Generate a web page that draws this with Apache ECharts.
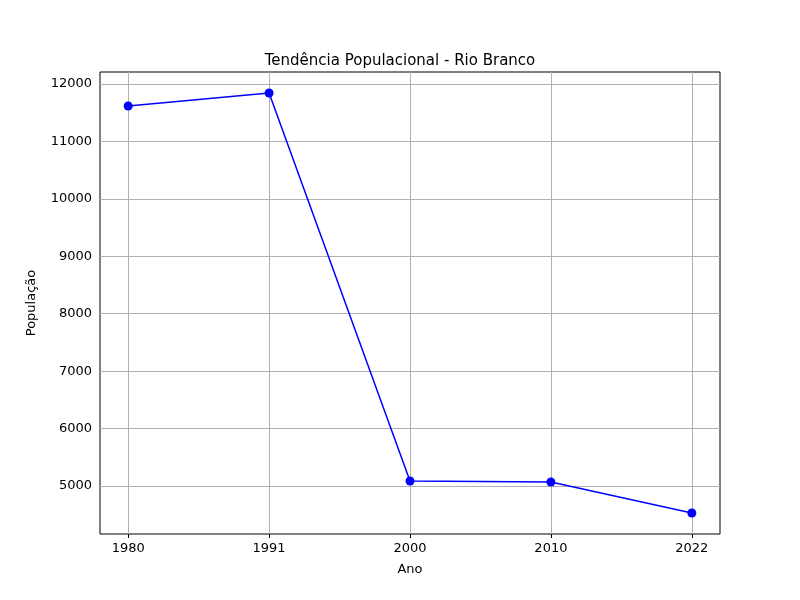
<!DOCTYPE html>
<html><head><meta charset="utf-8">
<script src="https://cdn.jsdelivr.net/npm/echarts@6/dist/echarts.min.js"></script>
<style>body{margin:0}#c{width:800px;height:600px}</style></head>
<body><div id="c"></div>
<script>
var anos = ['1980', '1991', '2000', '2010', '2022'];
var populacao = [11617, 11843, 5087, 5070, 4530];
var yTicks = [5000, 6000, 7000, 8000, 9000, 10000, 11000, 12000];

var chart = echarts.init(document.getElementById('c'));
var pts = populacao.map(function (v, i) { return [i, v]; });
var font = 'DejaVu Sans';
chart.setOption({
    animation: false,
    title: { text: 'Tendência Populacional - Rio Branco', left: 'center', top: 49,
        textStyle: { fontFamily: font, fontSize: 15, fontWeight: 'normal', color: '#000' } },
    grid: { left: 100, right: 80, top: 72, bottom: 66, show: true, borderColor: '#000', borderWidth: 1 },
    xAxis: {
        type: 'value', min: -0.2, max: 4.2, name: 'Ano', nameLocation: 'middle', nameGap: 29,
        nameTextStyle: { fontFamily: font, fontSize: 13, color: '#000' },
        axisLine: { show: false },
        axisTick: { show: true, customValues: [0, 1, 2, 3, 4], length: 4, lineStyle: { color: '#000' } },
        axisLabel: { customValues: [0, 1, 2, 3, 4], formatter: function (v) { return anos[v]; },
            fontFamily: font, fontSize: 13, color: '#000', margin: 8 },
        splitLine: { show: false }
    },
    yAxis: {
        type: 'value', min: 4164, max: 12209, name: 'População', nameLocation: 'middle', nameGap: 62,
        nameTextStyle: { fontFamily: font, fontSize: 13, color: '#000' },
        axisLine: { show: false },
        axisTick: { show: true, customValues: yTicks, length: 4, lineStyle: { color: '#000' } },
        axisLabel: { customValues: yTicks, formatter: function (v) { return String(v); },
            fontFamily: font, fontSize: 13, color: '#000', margin: 8 },
        splitLine: { show: false }
    },
    series: [{
        type: 'line', data: pts, symbol: 'circle', symbolSize: 9,
        lineStyle: { color: '#0000ff', width: 1.5 }, itemStyle: { color: '#0000ff' },
        markLine: {
            silent: true, symbol: 'none', label: { show: false }, z: 1,
            lineStyle: { color: '#b0b0b0', type: 'solid', width: 1 },
            data: yTicks.map(function (v) { return { yAxis: v }; })
                .concat([0, 1, 2, 3, 4].map(function (v) { return { xAxis: v }; }))
        }
    }]
});
</script></body></html>
